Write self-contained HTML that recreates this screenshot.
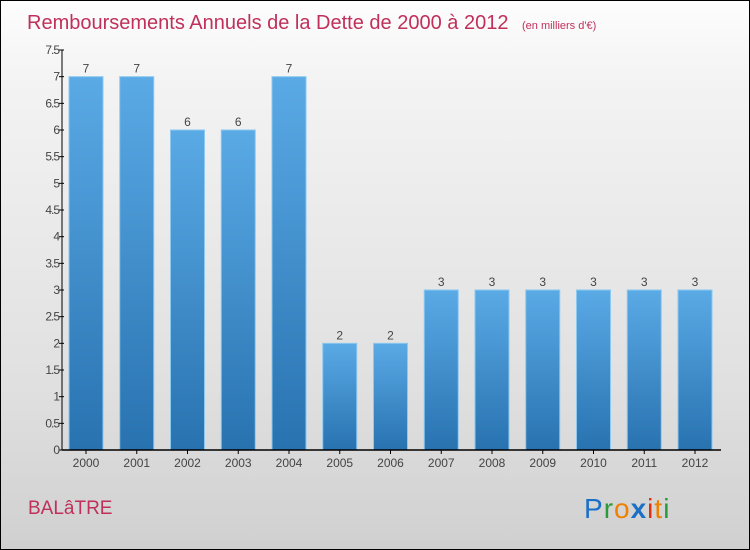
<!DOCTYPE html>
<html><head><meta charset="utf-8"><style>
body{margin:0}
#c{width:748px;height:548px;border:1px solid #000;position:relative;background:linear-gradient(#fdfdfd,#f3f3f3 15%,#e0e0e0 70%,#d0d0d0);font-family:"Liberation Sans",sans-serif;overflow:hidden}
</style></head><body>
<div id="c">
<svg id="s" width="748" height="548">
<defs><linearGradient id="g" x1="0" y1="0" x2="0" y2="1"><stop offset="0" stop-color="#5aaae6"/><stop offset="1" stop-color="#2872b0"/></linearGradient></defs>
<text x="26" y="28" font-size="20" fill="#c0305a">Remboursements Annuels de la Dette de 2000 à 2012 <tspan font-size="11" dx="8">(en milliers d'€)</tspan></text>
<text x="27" y="513" font-size="19" fill="#c0305a">BALâTRE</text>
<g font-size="28"><text x="583" y="517" letter-spacing="1"><tspan fill="#1a6fc7">P</tspan><tspan fill="#2a9a3a">r</tspan><tspan fill="#f08000">o</tspan><tspan fill="#1a6fc7" font-weight="bold">x</tspan><tspan fill="#e03010">i</tspan><tspan fill="#f08000">t</tspan><tspan fill="#2a9a3a">i</tspan></text></g>
</svg></div>
<script>
const years=["2000","2001","2002","2003","2004","2005","2006","2007","2008","2009","2010","2011","2012"];
const values=[7,7,6,6,7,2,2,3,3,3,3,3,3];
const ticks=[0,0.5,1,1.5,2,2.5,3,3.5,4,4.5,5,5.5,6,6.5,7,7.5];
const NS="http://www.w3.org/2000/svg",s=document.getElementById('s');
const y=v=>449-v*(400/7.5), x=i=>85+i*50.75;
function mk(t,a,p){const e=document.createElementNS(NS,t);for(const k in a)e.setAttribute(k,a[k]);(p||s).appendChild(e);return e;}
values.forEach((v,i)=>{
 const r=mk('rect',{x:x(i)-17,y:y(v),width:34,height:449-y(v),fill:'url(#g)',stroke:'#8cc8f0','stroke-width':1});
 
 
 const t=mk('text',{x:x(i),y:y(v)-4,'font-size':12,fill:'#444','text-anchor':'middle'});t.textContent=v;
 
 
 const yl=mk('text',{x:x(i),y:466,'font-size':12,fill:'#444','text-anchor':'middle'});yl.textContent=years[i];
 
 
 const tk=mk('line',{x1:x(i),x2:x(i),y1:449,y2:453,stroke:'#000'});
 
 
});
ticks.forEach(v=>{
 const l=mk('line',{x1:58,x2:63,y1:y(v),y2:y(v),stroke:'#000'});
 
 
 const t=mk('text',{x:58,y:y(v)+4,'font-size':12,fill:'#444','text-anchor':'end','letter-spacing':'-1'});t.textContent=v;
 
 
});
const ya=mk('line',{x1:61,x2:61,y1:y(7.5),y2:449,stroke:'#000'});


const xa=mk('line',{x1:61,x2:720,y1:449,y2:449,stroke:'#000','stroke-width':1.5});


</script>
</body></html>
